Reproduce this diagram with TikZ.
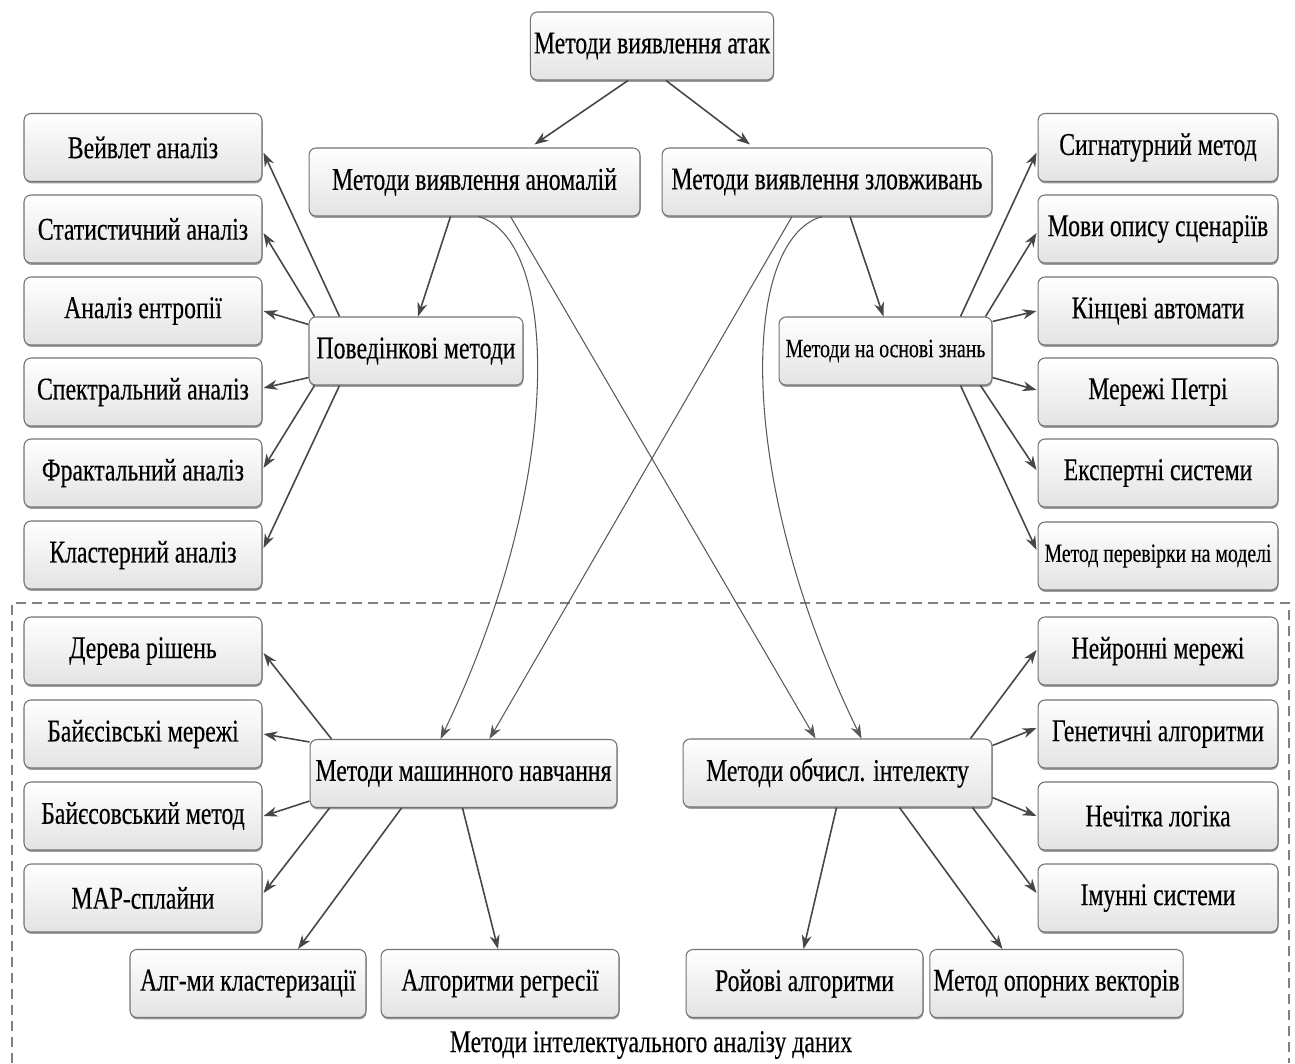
\documentclass[tikz,border=0pt]{standalone}
\usepackage{fontspec}
\setmainfont[FakeStretch=0.75,FakeBold=0.3]{Liberation Serif}
\usetikzlibrary{arrows.meta,shadows}
\begin{document}
\begin{tikzpicture}[x=0.02cm,y=-0.02cm,
  box/.style={draw=black!55, rounded corners=0.14cm, top color=white, bottom color=black!11,
    line width=0.6pt, font=\fontsize{18}{21}\selectfont, minimum height=1.36cm, inner sep=2pt,
    drop shadow={shadow xshift=0.3pt, shadow yshift=-1.1pt, fill=black!70, opacity=0.55}},
  lbox/.style={box, minimum width=4.76cm},
  rbox/.style={box, minimum width=4.8cm},
  small/.style={font=\fontsize{15}{18}\selectfont},
  arr/.style={draw=black!72, line width=0.9pt, -{Stealth[length=0.28cm,width=0.2cm]}},
  carr/.style={draw=black!65, line width=0.6pt, -{Stealth[length=0.28cm,width=0.2cm]}},
  frame/.style={draw=black!50, line width=0.6pt, dash pattern=on 0.2cm off 0.12cm}]
\useasboundingbox (0,0) rectangle (1295,1063);

% frame of data-mining methods
\draw[frame] (12,1063) -- (12,603) -- (1289,603) -- (1289,1063);

% main nodes
\node[box, minimum width=4.8cm] (top) at (652,46) {Методи виявлення атак};
\node[box, minimum width=6.62cm] (anom) at (474.5,182) {Методи виявлення аномалій};
\node[box, minimum width=6.6cm] (mis) at (827,182) {Методи виявлення зловживань};
\node[box, minimum width=4.28cm] (beh) at (416,351) {Поведінкові методи};
\node[box, small, minimum width=4.26cm] (kb) at (885.5,351) {Методи на основі знань};
\node[box, minimum width=6.14cm] (ml) at (463.5,773.5) {Методи машинного навчання};
\node[box, minimum width=6.18cm] (ci) at (837.5,773) {Методи обчисл. інтелекту};

% left column
\node[lbox] (vb) at (143,147.5) {Вейвлет аналіз};
\node[lbox] (stat) at (143,229) {Статистичний аналіз};
\node[lbox] (entr) at (143,311) {Аналіз ентропії};
\node[lbox] (spec) at (143,392) {Спектральний аналіз};
\node[lbox] (frac) at (143,473) {Фрактальний аналіз};
\node[lbox] (clus) at (143,555) {Кластерний аналіз};

% right column
\node[rbox] (sig) at (1158,147.5) {Сигнатурний метод};
\node[rbox] (lang) at (1158,229) {Мови опису сценаріїв};
\node[rbox] (fsm) at (1158,311) {Кінцеві автомати};
\node[rbox] (petri) at (1158,392) {Мережі Петрі};
\node[rbox] (exp) at (1158,473) {Експертні системи};
\node[rbox, small] (mc) at (1158,556) {Метод перевірки на моделі};

% lower left
\node[lbox] (tree) at (143,651) {Дерева рішень};
\node[lbox] (bnet) at (143,734) {Байєсівські мережі};
\node[lbox] (bayes) at (143,816) {Байєсовський метод};
\node[lbox] (mars) at (143,898) {МАР-сплайни};

% lower right
\node[rbox] (nn) at (1158,651) {Нейронні мережі};
\node[rbox] (ga) at (1158,734) {Генетичні алгоритми};
\node[rbox] (fuzzy) at (1158,816) {Нечітка логіка};
\node[rbox] (imm) at (1158,898) {Імунні системи};

% bottom row
\node[box, minimum width=4.72cm] (clu) at (248,983.5) {Алг-ми кластеризації};
\node[box, minimum width=4.76cm] (reg) at (500,983.5) {Алгоритми регресії};
\node[box, minimum width=4.74cm] (swarm) at (804.5,983.5) {Ройові алгоритми};
\node[box, minimum width=4.78cm] (svm) at (1056.5,983.5) {Метод опорних векторів};

\node[font=\fontsize{18}{21}\selectfont] (cap) at (651,1045) {Методи інтелектуального аналізу даних};

% top level arrows
\draw[arr] ([shift={(-24,0)}]top.south) -- ([shift={(60,-3)}]anom.north);
\draw[arr] ([shift={(14,0)}]top.south) -- ([shift={(-77,-3)}]mis.north);
\draw[arr] ([shift={(-24,0)}]anom.south) -- ([shift={(2,0)}]beh.north);
\draw[arr] ([shift={(23,0)}]mis.south) -- ([shift={(-2,0)}]kb.north);

% crossing links
\draw[carr] ([shift={(4,0)}]anom.south) .. controls (560,240) and (565,480) .. ([shift={(-23,0)}]ml.north);
\draw[carr] ([shift={(-5,0)}]mis.south) .. controls (740,240) and (735,480) .. ([shift={(24,0)}]ci.north);
\draw[carr] ([shift={(36,0)}]anom.south) -- ([shift={(-22,0)}]ci.north);
\draw[carr] ([shift={(-35,0)}]mis.south) -- ([shift={(26,0)}]ml.north);

% behavioural fan
\draw[arr] ([shift={(31,0)}]beh.north west) -- ([shift={(1,5)}]vb.east);
\draw[arr] ([shift={(6,0)}]beh.north west) -- ([shift={(1,4)}]stat.east);
\draw[arr] ([shift={(0,8)}]beh.north west) -- ([shift={(1,0)}]entr.east);
\draw[arr] ([shift={(0,-8)}]beh.south west) -- ([shift={(1,-4)}]spec.east);
\draw[arr] ([shift={(6,0)}]beh.south west) -- ([shift={(1,-5)}]frac.east);
\draw[arr] ([shift={(31,0)}]beh.south west) -- ([shift={(1,-7)}]clus.east);

% knowledge fan
\draw[arr] ([shift={(-32,0)}]kb.north east) -- ([shift={(-1,5)}]sig.west);
\draw[arr] ([shift={(-7,0)}]kb.north east) -- ([shift={(-1,4)}]lang.west);
\draw[arr] ([shift={(0,5)}]kb.north east) -- ([shift={(-1,0)}]fsm.west);
\draw[arr] ([shift={(0,-8)}]kb.south east) -- ([shift={(-1,-2)}]petri.west);
\draw[arr] ([shift={(-12,0)}]kb.south east) -- ([shift={(-1,-3)}]exp.west);
\draw[arr] ([shift={(-32,0)}]kb.south east) -- ([shift={(-1,-6)}]mc.west);

% machine learning fan
\draw[arr] ([shift={(22,0)}]ml.north west) -- ([shift={(1,2)}]tree.east);
\draw[arr] ([shift={(0,3)}]ml.north west) -- ([shift={(1,0)}]bnet.east);
\draw[arr] ([shift={(0,-7)}]ml.south west) -- ([shift={(1,0)}]bayes.east);
\draw[arr] ([shift={(20,0)}]ml.south west) -- ([shift={(1,-5)}]mars.east);
\draw[arr] ([shift={(92,0)}]ml.south west) -- ([shift={(50,0)}]clu.north);
\draw[arr] ([shift={(153,0)}]ml.south west) -- ([shift={(-2,0)}]reg.north);

% computational intelligence fan
\draw[arr] ([shift={(-22,0)}]ci.north east) -- ([shift={(-1,-1)}]nn.west);
\draw[arr] ([shift={(0,7)}]ci.north east) -- ([shift={(-1,-6)}]ga.west);
\draw[arr] ([shift={(0,-10)}]ci.south east) -- ([shift={(-1,0)}]fuzzy.west);
\draw[arr] ([shift={(-20,0)}]ci.south east) -- ([shift={(-1,-5)}]imm.west);
\draw[arr] ([shift={(154,0)}]ci.south west) -- ([shift={(-1,0)}]swarm.north);
\draw[arr] ([shift={(217,0)}]ci.south west) -- ([shift={(-54,0)}]svm.north);
\end{tikzpicture}
\end{document}
